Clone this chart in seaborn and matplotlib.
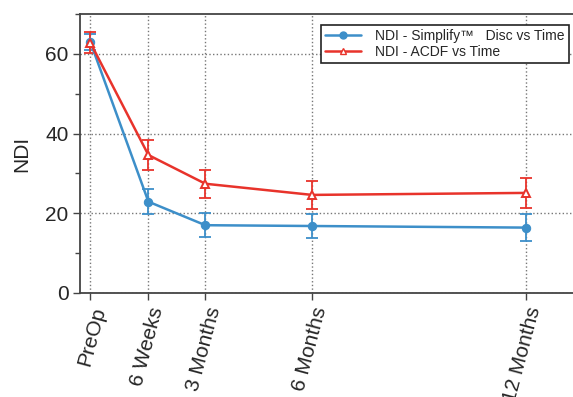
import matplotlib
matplotlib.use("Agg")
import matplotlib.pyplot as plt
import seaborn as sns
import pandas as pd
from matplotlib.ticker import MultipleLocator
from matplotlib.lines import Line2D

# Data (x in days after surgery)
time_days = [-7, 42, 90, 180, 360]
tick_labels = ["PreOp", "6 Weeks", "3 Months", "6 Months", "12 Months"]
simplify_mean = [63.0, 22.9, 17.0, 16.8, 16.4]
simplify_err = [2.0, 3.1, 3.0, 3.0, 3.3]
acdf_mean = [62.8, 34.6, 27.4, 24.6, 25.1]
acdf_err = [2.7, 3.7, 3.5, 3.6, 3.8]

label_s = "NDI - Simplify\u2122   Disc vs Time"
label_a = "NDI - ACDF vs Time"

df = pd.DataFrame({
    "time": time_days * 2,
    "NDI": simplify_mean + acdf_mean,
    "series": [label_s] * 5 + [label_a] * 5,
})

sns.set_style("ticks")
plt.rcParams["font.family"] = ["Liberation Sans", "DejaVu Sans"]

blue = "#3d8fc9"
red = "#e8332b"

fig = plt.figure(figsize=(5.73, 3.97), dpi=100)
ax = fig.add_axes([0.14, 0.262, 0.86, 0.703])

ax.errorbar(time_days, simplify_mean, yerr=simplify_err, fmt="none",
            ecolor=blue, elinewidth=1.3, capsize=4, capthick=1.3, zorder=1)
ax.errorbar(time_days, acdf_mean, yerr=acdf_err, fmt="none",
            ecolor=red, elinewidth=1.3, capsize=4, capthick=1.3, zorder=1)

sns.lineplot(data=df, x="time", y="NDI", hue="series", style="series",
             palette={label_s: blue, label_a: red},
             markers={label_s: "o", label_a: "^"}, dashes=False,
             linewidth=1.8, markersize=6, ax=ax, legend=False, zorder=3)
for ln in ax.lines:
    c = matplotlib.colors.to_hex(ln.get_color())
    if c == red:
        ln.set_markerfacecolor("white")
        ln.set_markeredgecolor(red)
        ln.set_markeredgewidth(1.4)
        ln.set_markersize(6)
    elif c == blue:
        ln.set_markeredgecolor(blue)

ax.set_xlim(-15.5, 400)
ax.set_ylim(0, 70)
ax.set_xticks(time_days)
ax.set_xticklabels(tick_labels, rotation=75, ha="right", rotation_mode="anchor",
                   fontsize=15)
ax.yaxis.set_major_locator(MultipleLocator(20))
ax.yaxis.set_minor_locator(MultipleLocator(10))
ax.tick_params(axis="y", labelsize=15, length=5, width=1, color="#444444")
ax.tick_params(axis="y", which="minor", length=3.5, width=1, color="#444444")
ax.tick_params(axis="x", length=5, width=1, color="#444444")
ax.set_xlabel("")
ax.set_ylabel("NDI", fontsize=15, labelpad=10)
ax.grid(True, which="major", linestyle=":", color="#777777", linewidth=1)
ax.set_axisbelow(True)
for s in ["left", "bottom", "top"]:
    ax.spines[s].set_color("#444444")
    ax.spines[s].set_linewidth(1.3)
ax.spines["right"].set_visible(False)

handles = [
    Line2D([0], [0], color=blue, marker="o", markersize=5, linewidth=1.8),
    Line2D([0], [0], color=red, marker="^", markersize=5, linewidth=1.8,
           markerfacecolor="white", markeredgecolor=red),
]
leg = ax.legend(handles, [label_s, label_a], loc="upper right",
                bbox_to_anchor=(1.0, 0.975), fontsize=10, frameon=True,
                fancybox=False, framealpha=1, borderpad=0.3, labelspacing=0.1,
                handlelength=2.6, handletextpad=1.0, borderaxespad=0.3)
leg.get_frame().set_edgecolor("#222222")
leg.get_frame().set_linewidth(1.2)

fig.savefig("out.png", dpi=100)
